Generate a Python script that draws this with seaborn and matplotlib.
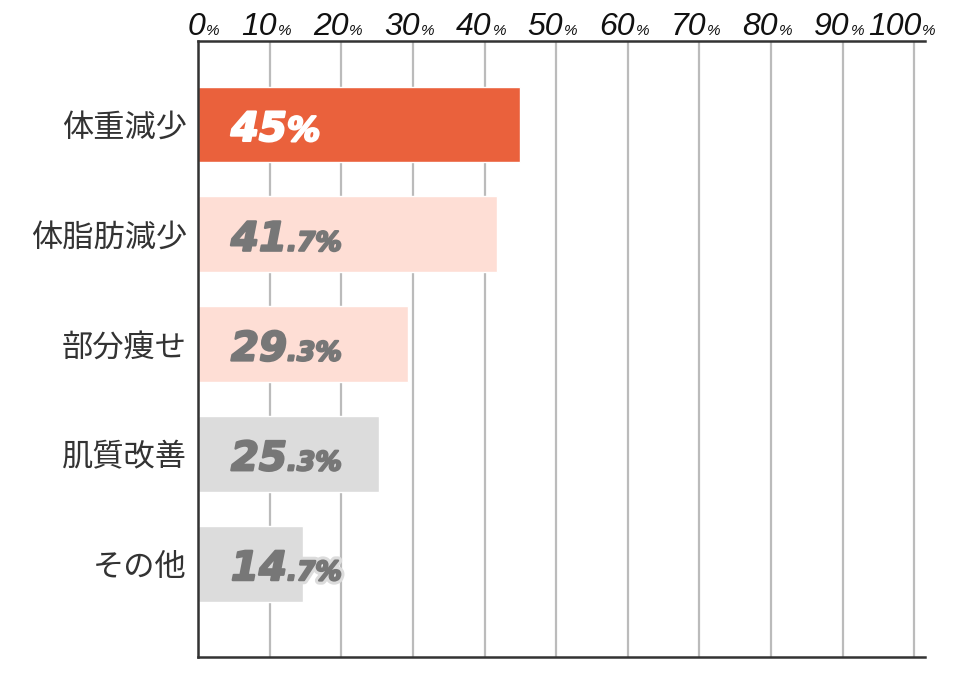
import matplotlib
matplotlib.use("Agg")
import matplotlib.pyplot as plt
import matplotlib.patheffects as pe
import matplotlib.transforms as mtransforms
import seaborn as sns
import pandas as pd

categories = ["体重減少", "体脂肪減少", "部分痩せ", "肌質改善", "その他"]
values = [45.0, 41.7, 29.3, 25.3, 14.7]
label_main = ["45", "41", "29", "25", "14"]
label_tail = ["%", ".7%", ".3%", ".3%", ".7%"]
bar_colors = ["#EA613C", "#FEDED5", "#FEDED5", "#DCDCDC", "#DCDCDC"]
text_colors = ["#FFFFFF", "#777777", "#777777", "#777777", "#777777"]
tail_sizes = [24, 19, 19, 19, 19]
xticks = [0, 10, 20, 30, 40, 50, 60, 70, 80, 90, 100]

sns.set_theme(style="white")
plt.rcParams["font.family"] = ["Noto Sans CJK JP", "DejaVu Sans"]

df = pd.DataFrame({"cat": categories, "val": values})

fig = plt.figure(figsize=(9.6, 6.78), dpi=100)
ax = fig.add_axes([198 / 960, 1 - 657 / 678, (925 - 198) / 960, (657 - 41) / 678])

sns.barplot(data=df, y="cat", x="val", hue="cat", palette=bar_colors,
            orient="h", width=0.69, legend=False, ax=ax, saturation=1)

ax.set_xlim(0, 101.5)
ax.set_ylim(4.85, -0.76)
ax.set_xlabel("")
ax.set_ylabel("")
ax.set_axisbelow(True)
ax.set_xticks(xticks)
ax.set_xticklabels([])
ax.tick_params(axis="x", length=0)
ax.tick_params(axis="y", length=0, pad=8, labelsize=22.5, labelcolor="#333333")
ax.grid(axis="x", color="#BBBBBB", linewidth=1.6)
ax.grid(axis="y", visible=False)
for s in ["top", "bottom", "left"]:
    ax.spines[s].set_visible(True)
    ax.spines[s].set_color("#333333")
    ax.spines[s].set_linewidth(1.8)
ax.spines["right"].set_visible(False)

# top tick labels: number + small %, the pair centred on the gridline
trans = mtransforms.blended_transform_factory(ax.transData, ax.transAxes)
for v in xticks:
    ax.annotate(f"{v}", xy=(v, 1.0), xycoords=trans, xytext=(7, 6),
                textcoords="offset pixels", ha="right", va="baseline",
                fontsize=23, style="italic", color="#111111",
                family="Liberation Sans")
    ax.annotate("%", xy=(v, 1.0), xycoords=trans, xytext=(8, 6),
                textcoords="offset pixels", ha="left", va="baseline",
                fontsize=11, style="italic", color="#111111",
                family="Liberation Sans")

# value labels
for i in range(len(values)):
    effects = [pe.Stroke(linewidth=6, foreground=bar_colors[i]),
               pe.Stroke(linewidth=1.6, foreground=text_colors[i]),
               pe.Normal()]
    big = ax.text(4.6, i + 0.15, label_main[i], ha="left", va="baseline",
                  fontsize=29, fontweight="bold", style="italic",
                  color=text_colors[i], family="DejaVu Sans", path_effects=effects)
    ax.annotate(label_tail[i], xy=(1, i + 0.15), xycoords=(big, "data"),
                ha="left", va="baseline", fontsize=tail_sizes[i],
                fontweight="bold", style="italic", color=text_colors[i],
                family="DejaVu Sans", path_effects=effects)

fig.savefig("out.png", dpi=100)
